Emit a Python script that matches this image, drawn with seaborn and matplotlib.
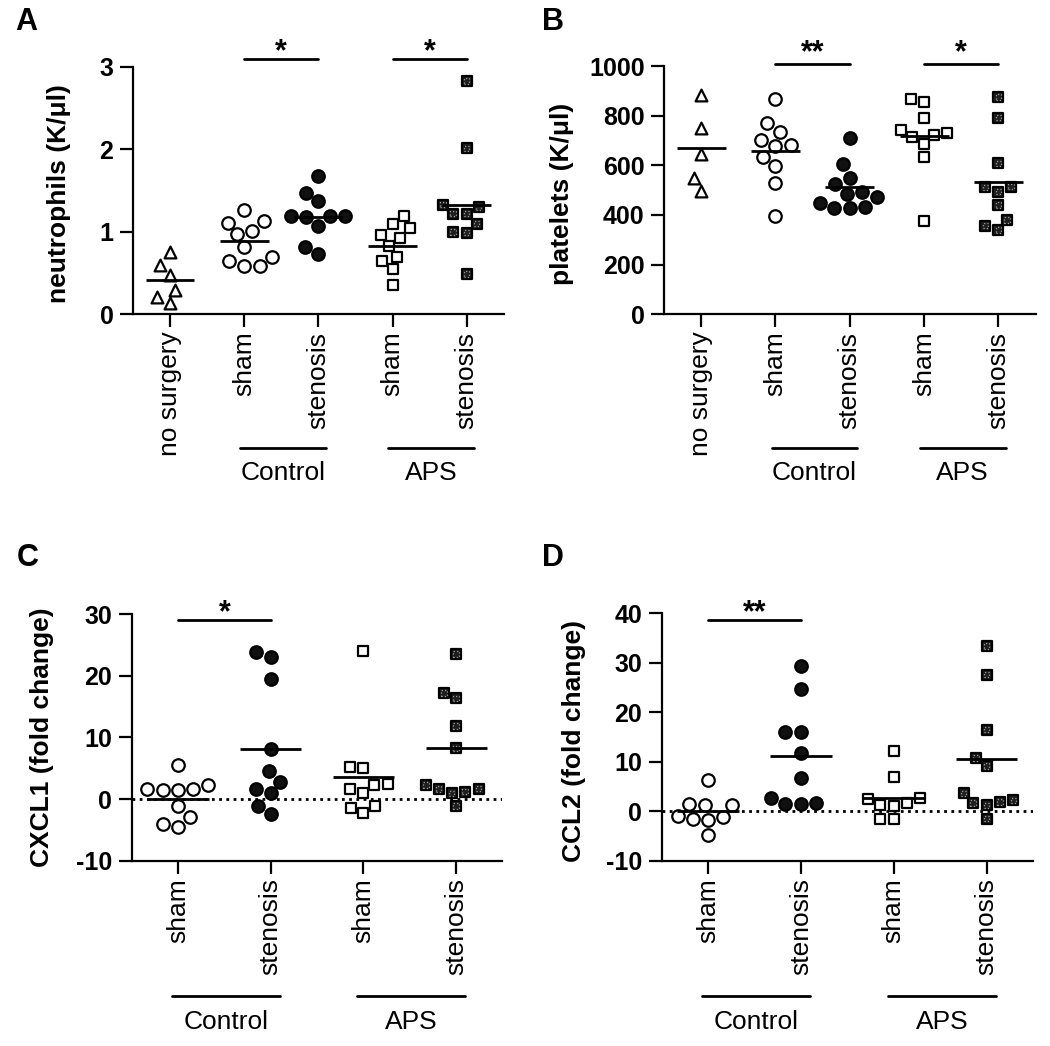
import numpy as np
import matplotlib
matplotlib.use("Agg")
import matplotlib.pyplot as plt
import matplotlib.transforms as mtrans
import seaborn as sns

sns.set_theme(style="ticks")
plt.rcParams["font.family"] = ["Liberation Sans", "DejaVu Sans"]
plt.rcParams["text.color"] = "black"
plt.rcParams["axes.labelcolor"] = "black"
plt.rcParams["xtick.color"] = "black"
plt.rcParams["ytick.color"] = "black"
plt.rcParams["xtick.labelcolor"] = "black"
plt.rcParams["ytick.labelcolor"] = "black"

# ---------------- data ----------------
keys_ab = ["ns", "c_sham", "c_sten", "a_sham", "a_sten"]
labels_ab = ["no surgery", "sham", "stenosis", "sham", "stenosis"]
keys_cd = ["c_sham", "c_sten", "a_sham", "a_sten"]
labels_cd = ["sham", "stenosis", "sham", "stenosis"]

# A: neutrophils (K/ul)
neut_no_surgery = [0.75, 0.60, 0.48, 0.30, 0.21, 0.14]
neut_ctrl_sham = [1.26, 1.13, 1.11, 1.01, 0.97, 0.81, 0.70, 0.64, 0.59, 0.59]
neut_ctrl_sten = [1.67, 1.47, 1.37, 1.19, 1.19, 1.18, 1.19, 1.07, 0.81, 0.73]
neut_aps_sham = [1.19, 1.10, 1.04, 0.96, 0.93, 0.83, 0.70, 0.65, 0.55, 0.35]
neut_aps_sten = [2.83, 2.01, 1.33, 1.30, 1.22, 1.22, 1.10, 1.00, 0.99, 0.49]
neut_means = [0.42, 0.89, 1.18, 0.83, 1.33]

# B: platelets (K/ul)
plt_no_surgery = [883, 749, 644, 548, 498]
plt_ctrl_sham = [866, 769, 736, 702, 682, 679, 635, 599, 528, 397]
plt_ctrl_sten = [709, 604, 550, 525, 494, 485, 474, 450, 427, 427, 434]
plt_aps_sham = [866, 856, 789, 742, 732, 722, 713, 685, 632, 376]
plt_aps_sten = [876, 792, 608, 514, 511, 494, 440, 380, 357, 340]
plt_means = [668, 659, 514, 718, 532]

# C: CXCL1 (fold change)
cxcl1_ctrl_sham = [5.5, 2.2, 1.6, 1.4, 1.4, 1.6, -1.2, -2.9, -4.0, -4.5]
cxcl1_ctrl_sten = [23.9, 23.1, 19.5, 8.1, 4.5, 2.8, 1.6, 0.9, -1.1, -2.4]
cxcl1_aps_sham = [24.0, 5.2, 5.0, 2.4, 2.3, 1.6, 1.0, -1.1, -1.4, -2.3]
cxcl1_aps_sten = [23.5, 17.2, 16.3, 11.8, 8.2, 2.3, 1.7, 1.6, 1.2, 0.9, -1.1]
cxcl1_means = [0.0, 8.05, 3.6, 8.2]

# D: CCL2 (fold change)
ccl2_ctrl_sham = [6.3, 1.4, 1.2, 1.2, -0.9, -1.2, -1.5, -1.7, -4.9]
ccl2_ctrl_sten = [29.3, 24.8, 16.0, 16.0, 11.7, 6.7, 2.6, 1.6, 1.4, 1.4]
ccl2_aps_sham = [12.1, 6.9, 2.6, 2.4, 1.6, 1.2, 1.1, -1.5, -1.6]
ccl2_aps_sten = [33.4, 27.6, 16.5, 10.8, 9.1, 3.6, 2.2, 1.9, 1.7, 1.2, -1.5]
ccl2_means = [0.0, 11.2, 2.6, 10.5]

# ---------------- styling ----------------
STYLE = {
    "ns": dict(marker="^", face="white", size=8.5),
    "c_sham": dict(marker="o", face="white", size=9.0),
    "c_sten": dict(marker="o", face="#111111", size=9.0),
    "a_sham": dict(marker="s", face="white", size=7.8),
    "a_sten": dict(marker="s", face="#1e1e1e", size=7.8),
}

W, H = 1050, 1046
fig = plt.figure(figsize=(W / 100, H / 100), dpi=100)


def rect(l, t, r, b):
    return [l / W, 1 - b / H, (r - l) / W, (b - t) / H]


TICK_FS = 18
CAT_FS = 19
LAB_FS = 19


def draw_panel(ax, keys, labels, groups, means, ylim, yticks):
    colls = {}
    for key, vals in zip(keys, groups):
        st = STYLE[key]
        sns.swarmplot(x=[key] * len(vals), y=vals, order=keys, ax=ax,
                      marker=st["marker"], color=st["face"], edgecolor="black",
                      linewidth=1.6, size=st["size"], zorder=3)
        colls[key] = ax.collections[-1]
    n = len(keys)
    pos = np.arange(n)
    ax.hlines(means, pos - 0.33, pos + 0.33, color="black", lw=2.0, zorder=5)
    ax.set_xlim(-0.5, n - 0.5)
    ax.set_ylim(*ylim)
    ax.set_yticks(yticks)
    ax.set_yticklabels([str(t) for t in yticks], fontsize=TICK_FS,
                       fontweight="bold", color="black")
    ax.set_xticks(pos)
    ax.set_xticklabels(labels, rotation=90, fontsize=CAT_FS, color="black")
    ax.set_xlabel("")
    ax.set_ylabel("")
    sns.despine(ax=ax)
    for s in ("left", "bottom"):
        ax.spines[s].set_linewidth(1.6)
        ax.spines[s].set_color("black")
    ax.tick_params(axis="both", width=1.6, length=9.5, color="black")
    ax.tick_params(axis="y", pad=4.5)
    ax.tick_params(axis="x", pad=3)
    ax.grid(False)
    return colls


def group_lines(ax, specs, yline, ytext):
    trans = mtrans.blended_transform_factory(ax.transData, ax.transAxes)
    for x0, x1, txt in specs:
        ax.plot([x0, x1], [yline, yline], transform=trans, clip_on=False,
                color="black", lw=2.0)
        ax.text((x0 + x1) / 2, ytext, txt, transform=trans, ha="center",
                va="center", fontsize=CAT_FS, color="black")


def sig(ax, x0, x1, ybar, ytxt, txt):
    ax.plot([x0, x1], [ybar, ybar], color="black", lw=2.0, clip_on=False)
    ax.text((x0 + x1) / 2, ytxt, txt, ha="center", va="center",
            fontsize=22, fontweight="bold", clip_on=False, color="black")


axA = fig.add_axes(rect(132.9, 66.7, 503.8, 314.3))
axB = fig.add_axes(rect(664.0, 66.0, 1035.5, 314.3))
axC = fig.add_axes(rect(131.7, 614.0, 502.5, 860.7))
axD = fig.add_axes(rect(661.7, 613.3, 1033.0, 860.7))

cA = draw_panel(axA, keys_ab, labels_ab,
                [neut_no_surgery, neut_ctrl_sham, neut_ctrl_sten, neut_aps_sham, neut_aps_sten],
                neut_means, (0, 3), [0, 1, 2, 3])
cB = draw_panel(axB, keys_ab, labels_ab,
                [plt_no_surgery, plt_ctrl_sham, plt_ctrl_sten, plt_aps_sham, plt_aps_sten],
                plt_means, (0, 1000), [0, 200, 400, 600, 800, 1000])
cC = draw_panel(axC, keys_cd, labels_cd,
                [cxcl1_ctrl_sham, cxcl1_ctrl_sten, cxcl1_aps_sham, cxcl1_aps_sten],
                cxcl1_means, (-10, 30), [-10, 0, 10, 20, 30])
cD = draw_panel(axD, keys_cd, labels_cd,
                [ccl2_ctrl_sham, ccl2_ctrl_sten, ccl2_aps_sham, ccl2_aps_sten],
                ccl2_means, (-10, 40), [-10, 0, 10, 20, 30, 40])

for ax in (axC, axD):
    ax.axhline(0, color="black", lw=2.0, ls=(0, (1, 1.6)), zorder=1)

# group underlines
group_lines(axA, [(0.95, 2.1, "Control"), (2.94, 4.1, "APS")], -0.539, -0.641)
group_lines(axB, [(0.95, 2.1, "Control"), (2.94, 4.1, "APS")], -0.539, -0.641)
group_lines(axC, [(-0.065, 1.1, "Control"), (1.935, 3.1, "APS")], -0.547, -0.653)
group_lines(axD, [(-0.065, 1.1, "Control"), (1.935, 3.1, "APS")], -0.547, -0.653)

# significance bars
sig(axA, 1, 2, 3.09, 3.17, "*")
sig(axA, 3, 4, 3.09, 3.17, "*")
sig(axB, 1, 2, 1007, 1052, "**")
sig(axB, 3, 4, 1007, 1052, "*")
sig(axC, 0, 1, 29.0, 30.2, "*")
sig(axD, 0, 1, 38.7, 40.1, "**")

# y labels and panel letters (pixel centres)
def ftext(px, py, s, **kw):
    fig.text(px / W, 1 - py / H, s, color="black", **kw)

ftext(59, 194, "neutrophils (K/\u03bcl)", rotation=90, ha="center", va="center",
      fontsize=LAB_FS, fontweight="bold")
ftext(562, 194, "platelets (K/\u03bcl)", rotation=90, ha="center", va="center",
      fontsize=LAB_FS, fontweight="bold")
ftext(42, 737, "CXCL1 (fold change)", rotation=90, ha="center", va="center",
      fontsize=LAB_FS, fontweight="bold")
ftext(574, 741, "CCL2 (fold change)", rotation=90, ha="center", va="center",
      fontsize=LAB_FS, fontweight="bold")

for px, py, s in [(26, 22, "A"), (553, 22, "B"), (28, 558, "C"), (553, 558, "D")]:
    ftext(px, py, s, ha="center", va="center", fontsize=22, fontweight="bold")

# inner dotted pattern on APS stenosis squares
fig.canvas.draw()
for ax, colls in ((axA, cA), (axB, cB), (axC, cC), (axD, cD)):
    offs = colls["a_sten"].get_offsets()
    ax.scatter(offs[:, 0], offs[:, 1], marker="s", s=16, facecolors="none",
               edgecolors="#9a9a9a", linewidths=0.9, linestyles=":", zorder=4)

fig.savefig("out.png", dpi=100, facecolor="white")
